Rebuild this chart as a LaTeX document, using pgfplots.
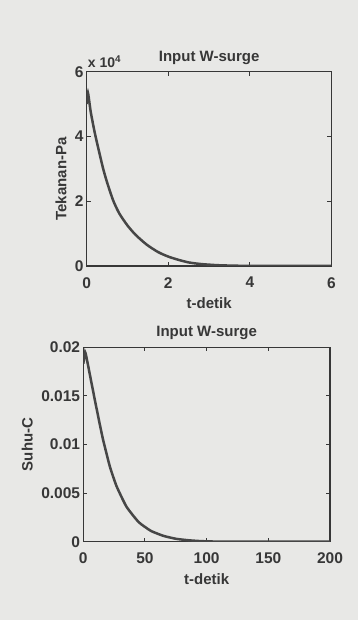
\documentclass[border=0pt]{standalone}
\usepackage{fontspec}
\setmainfont{Liberation Sans}
\usepackage{pgfplots}
\pgfplotsset{compat=1.18}
\definecolor{paper}{RGB}{232,232,230}
\definecolor{ink}{RGB}{55,55,55}
\definecolor{curve}{RGB}{70,70,70}
\pgfplotsset{
  mystyle/.style={
    scale only axis,
    axis line style={ink,line width=1.5pt},
    tick style={ink,line width=1pt},
    tick align=inside,
    major tick length=4pt,
    scaled ticks=false,
    every tick label/.append style={font=\fontsize{15.5}{18}\selectfont\bfseries,text=ink},
    xticklabel style={anchor=north,inner sep=0pt,yshift=-11pt},
    yticklabel style={anchor=east,inner sep=0pt,xshift=-3pt},
    label style={font=\fontsize{15}{18}\selectfont\bfseries,text=ink},
    title style={font=\fontsize{15}{18}\selectfont\bfseries,text=ink,at={(axis description cs:0.5,1)},anchor=center,inner sep=0pt,yshift=8pt},
    xlabel style={at={(axis description cs:0.5,0)},anchor=center,yshift=-37pt},
    /pgf/number format/assume math mode=true,
    clip mode=individual,
  }
}
\begin{document}
\begin{tikzpicture}[x=1pt,y=1pt]
\fill[paper] (0,0) rectangle (358,620);
% Top axis
\begin{axis}[mystyle,
  at={(86.7pt,354pt)},anchor=south west,
  width=244.8pt,height=194.3pt,
  xmin=0,xmax=6,ymin=0,ymax=6,
  xtick={0,2,4,6},xticklabels={0,2,4,6},
  ytick={0,2,4,6},yticklabels={0,2,4,6},
  title={Input W-surge},
  xlabel={t-detik},
  ylabel={Tekanan-Pa},
  ylabel style={at={(axis description cs:-0.105,0.448)},anchor=center},
]
\addplot[curve,line width=2.5pt,smooth,tension=0.4] coordinates {
(0,5.0) (0.03,5.35) (0.1,4.75) (0.2,4.1) (0.3,3.55) (0.4,3.02) (0.5,2.58)
(0.65,2.02) (0.8,1.62) (1.0,1.25) (1.2,0.96) (1.47,0.66) (1.75,0.43)
(2.0,0.29) (2.25,0.19) (2.5,0.11) (2.8,0.06) (3.2,0.025) (3.6,0.01) (4.0,0.003) (4.5,0) (6,0)
};
\node[anchor=south west,inner sep=0pt,font=\fontsize{14}{16}\selectfont\bfseries,text=ink] at (rel axis cs:0,1) [yshift=4pt,xshift=1pt] {x 10\textsuperscript{4}};
\end{axis}
% Bottom axis
\begin{axis}[mystyle,
  at={(83.3pt,78.3pt)},anchor=south west,
  width=246.7pt,height=194.4pt,
  xmin=0,xmax=200,ymin=0,ymax=0.02,
  xtick={0,50,100,150,200},xticklabels={0,50,100,150,200},
  ytick={0,0.005,0.01,0.015,0.02},yticklabels={0,0.005,0.01,0.015,0.02},
  title={Input W-surge},
  xlabel={t-detik},
  ylabel={Suhu-C},
  ylabel style={at={(axis description cs:-0.227,0.5)},anchor=center},
]
\addplot[curve,line width=2.5pt,smooth,tension=0.3] coordinates {
(0,0.0183) (1.5,0.0195) (3,0.0187) (5,0.0174) (7,0.0161) (9.5,0.0145)
(13,0.0123) (16.2,0.0104) (21.6,0.0077) (27,0.0057) (35,0.0036) (45,0.0020)
(55,0.0011) (65,0.0006) (75,0.0003) (85,0.00015) (95,0.00006) (105,0.00002) (115,0) (200,0)
};
\end{axis}
\end{tikzpicture}
\end{document}
